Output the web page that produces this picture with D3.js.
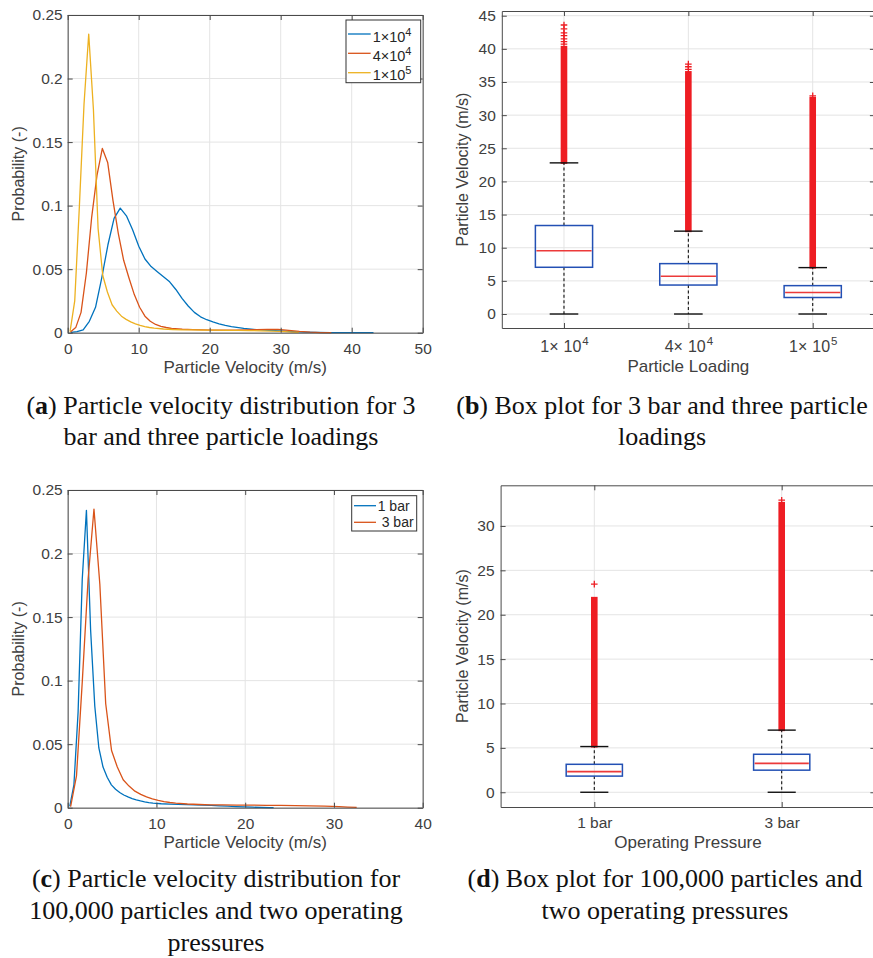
<!DOCTYPE html>
<html>
<head>
<meta charset="utf-8">
<script src="https://cdn.jsdelivr.net/npm/d3@7"></script>
<style>
  body { margin: 0; background: #fff; }
  svg text { font-family: "Liberation Sans", Arial, Helvetica, sans-serif; }
  svg text.cap { font-family: "Liberation Serif", "Times New Roman", serif; }
</style>
</head>
<body>
<svg id="fig" width="873" height="958"></svg>
<script>
// ---------------- data ----------------
// (a) velocity histograms (probability per bin) at 3 bar for three particle loadings
const velLoad1e4 = [0.44,1.31,2.18,3.05,3.92,4.79,5.66,6.53,7.40,8.27,9.14,10.01,10.88,11.75,12.62,13.49,14.36,15.23,16.10,16.97,17.84,18.71,19.58,20.45,21.32,22.19,23.06,24.80,26.54,28.28,30.02,31.76,33.50,35.24,36.98,38.72,40.46,42.20,43.07];
const probLoad1e4 = [0.0003,0.0008,0.0022,0.009,0.020,0.043,0.069,0.090,0.098,0.092,0.081,0.068,0.058,0.052,0.048,0.044,0.040,0.034,0.027,0.021,0.016,0.0125,0.0102,0.0085,0.0070,0.0058,0.0048,0.0034,0.0024,0.0019,0.0014,0.0009,0.0005,0.0002,0.0001,0,0,0,0];

const velLoad4e4 = [0.38,1.13,1.88,2.63,3.38,4.13,4.88,5.63,6.38,7.13,7.88,8.63,9.38,10.13,10.88,11.63,12.38,13.13,13.88,14.63,16.13,17.63,19.13,20.63,22.13,23.63,25.13,26.63,28.13,29.63,31.13,32.63,34.13,35.63,37.13];
const probLoad4e4 = [0.0005,0.004,0.016,0.047,0.091,0.124,0.145,0.134,0.104,0.078,0.057,0.043,0.030,0.020,0.013,0.0090,0.0065,0.0050,0.0041,0.0033,0.0027,0.0024,0.0022,0.0021,0.0021,0.0021,0.0022,0.0024,0.0026,0.0026,0.0019,0.0010,0.0004,0.0001,0];

const velLoad1e5 = [0.33,0.99,1.65,2.30,2.96,3.62,4.28,4.94,5.59,6.25,6.91,7.57,8.23,8.88,9.54,10.20,10.86,11.51,12.17,13.49,14.80,16.12,17.43,19.07,20.71,22.36,24.00,25.65,27.30,28.94,30.58,31.57,32.56];
const probLoad1e5 = [0.0008,0.025,0.100,0.180,0.235,0.176,0.082,0.045,0.032,0.022,0.017,0.013,0.0105,0.0085,0.0070,0.0058,0.0048,0.0041,0.0036,0.0029,0.0025,0.0023,0.0022,0.0021,0.0020,0.0019,0.0018,0.0017,0.0015,0.0012,0.0008,0.0005,0.0002];

// (c) 100,000 particles at 1 bar and 3 bar (3 bar is the 1e5 run above)
const vel1bar = [0.23,0.70,1.17,1.64,2.11,2.58,3.05,3.51,3.98,4.45,4.92,5.39,5.86,6.32,6.79,7.26,7.73,8.20,8.67,9.14,9.61,10.54,11.48,12.42,13.36,14.29,15.23,16.17,17.10,18.04,18.98,19.92,20.85,21.79,22.73,23.20];
const prob1bar = [0.001,0.018,0.075,0.180,0.234,0.140,0.080,0.047,0.032,0.024,0.018,0.0145,0.012,0.010,0.0085,0.0072,0.0062,0.0053,0.0046,0.0040,0.0036,0.0031,0.0028,0.0026,0.0024,0.0022,0.0020,0.0018,0.0015,0.0012,0.0009,0.0006,0.0004,0.0002,0.0001,0];
const vel3bar = velLoad1e5;
const prob3bar = probLoad1e5;

// (b) box plot statistics per particle loading
const loadingMantissa = ["1", "4", "1"];
const loadingExponent = ["4", "4", "5"];
const loadQ1      = [7.05, 4.37, 2.49];
const loadMedian  = [9.55, 5.70, 3.25];
const loadQ3      = [13.35, 7.60, 4.28];
const loadWhiskLo = [0, 0, 0];
const loadWhiskHi = [22.8, 12.5, 7.0];
const loadOutTop  = [40.3, 36.5, 32.6];          // top of the dense outlier run
const loadOutSparse = [[40.7, 41.1, 41.5, 42.0, 42.4, 43.0, 43.6], [36.9, 37.3, 37.7], [32.9]];

// (d) box plot statistics per operating pressure
const pressureLabels = ["1 bar", "3 bar"];
const presQ1      = [1.82, 2.49];
const presMedian  = [2.32, 3.25];
const presQ3      = [3.15, 4.28];
const presWhiskLo = [0, 0];
const presWhiskHi = [5.15, 7.0];
const presOutTop  = [21.9, 32.6];
const presOutSparse = [[23.45], [32.9]];

// ticks
const velTicksA  = [0, 10, 20, 30, 40, 50];
const velTicksC  = [0, 10, 20, 30, 40];
const probTicks  = [0, 0.05, 0.1, 0.15, 0.2, 0.25];
const probTickLabels = ["0", "0.05", "0.1", "0.15", "0.2", "0.25"];
const boxTicksB  = [0, 5, 10, 15, 20, 25, 30, 35, 40, 45];
const boxTicksD  = [0, 5, 10, 15, 20, 25, 30];

// captions
const captionA = ["(a) Particle velocity distribution for 3", "bar and three particle loadings"];
const captionB = ["(b) Box plot for 3 bar and three particle", "loadings"];
const captionC = ["(c) Particle velocity distribution for", "100,000 particles and two operating", "pressures"];
const captionD = ["(d) Box plot for 100,000 particles and", "two operating pressures"];

// ---------------- style ----------------
const GRID = "#e4e4e4", AXC = "#4a4a4a", TXT = "#404040";
const C_BLUE = "#0072BD", C_RED = "#D95319", C_YEL = "#EDB120";
const BOX_BLUE = "#2350b4", MED_RED = "#ec3a3a", OUT_RED = "#ee1d23";
const TICK_FS = 15.5, LABEL_FS = 17, YLABEL_FS = 16;

const svg = d3.select("#fig");

// ---------------- scales ----------------
const xA = d3.scaleLinear([0, 50], [67.7, 422.7]);
const yA = d3.scaleLinear([0, 0.25], [332.7, 15]);
const xC = d3.scaleLinear([0, 40], [67.7, 422.7]);
const yC = d3.scaleLinear([0, 0.25], [807.7, 490]);
const xB = d3.scaleLinear([0.5, 3.5], [501.8, 874.9]);
const yB = d3.scaleLinear([-2.11, 45.71], [328, 11]);
const xD = d3.scaleLinear([0.5, 2.5], [500.6, 875.4]);
const yD = d3.scaleLinear([-1.66, 34.58], [807, 485.3]);

// ---------------- helpers ----------------
function grid(xs, ys, xt, yt) {
  const g = svg.append("g");
  const [yb, ytop] = ys.range(), [xl, xr] = xs.range();
  g.selectAll("line.gx").data(xt).join("line")
    .attr("x1", d => xs(d)).attr("x2", d => xs(d)).attr("y1", ytop).attr("y2", yb)
    .attr("stroke", GRID).attr("stroke-width", 1);
  g.selectAll("line.gy").data(yt).join("line")
    .attr("x1", xl).attr("x2", xr).attr("y1", d => ys(d)).attr("y2", d => ys(d))
    .attr("stroke", GRID).attr("stroke-width", 1);
}

function styleAxis(s) {
  s.attr("font-family", null).attr("font-size", TICK_FS);
  s.select(".domain").attr("stroke", AXC);
  s.selectAll(".tick line").attr("stroke", AXC);
  s.selectAll(".tick text").attr("fill", TXT);
}

function frame(xs, ys, xt, yt, xFmt, yFmt, xPad, yPad) {
  const g = svg.append("g");
  const [yb, ytop] = ys.range(), [xl, xr] = xs.range();
  const none = () => "";
  const bottom = g.append("g").attr("transform", `translate(0,${yb})`)
    .call(d3.axisBottom(xs).tickValues(xt).tickSize(-5).tickSizeOuter(0).tickPadding(xPad).tickFormat(xFmt))
    .call(styleAxis);
  g.append("g").attr("transform", `translate(0,${ytop})`)
    .call(d3.axisTop(xs).tickValues(xt).tickSize(-5).tickSizeOuter(0).tickFormat(none)).call(styleAxis);
  g.append("g").attr("transform", `translate(${xl},0)`)
    .call(d3.axisLeft(ys).tickValues(yt).tickSize(-5).tickSizeOuter(0).tickPadding(yPad).tickFormat(yFmt))
    .call(styleAxis);
  g.append("g").attr("transform", `translate(${xr},0)`)
    .call(d3.axisRight(ys).tickValues(yt).tickSize(-5).tickSizeOuter(0).tickFormat(none)).call(styleAxis);
  return bottom;
}

function xLabel(text, x, y) {
  svg.append("text").attr("x", x).attr("y", y).attr("text-anchor", "middle")
    .attr("font-size", LABEL_FS).attr("fill", TXT).text(text);
}
function yLabel(text, x, y) {
  svg.append("text").attr("transform", `translate(${x},${y}) rotate(-90)`)
    .attr("text-anchor", "middle").attr("font-size", YLABEL_FS).attr("fill", TXT).text(text);
}

function curve(xs, ys, vx, vy, color) {
  svg.append("path").datum(d3.zip(vx, vy))
    .attr("fill", "none").attr("stroke", color).attr("stroke-width", 1.3)
    .attr("stroke-linejoin", "round")
    .attr("d", d3.line().x(d => xs(d[0])).y(d => ys(d[1])));
}

function boxplot(xs, ys, q1, med, q3, wlo, whi, outTop, outSparse, boxW) {
  const g = svg.append("g");
  const idx = d3.range(q1.length);
  const pos = i => i + 1;
  // outliers: dense run drawn as a column of markers, sparse ones as '+'
  g.selectAll("rect.out").data(idx).join("rect")
    .attr("x", i => xs(pos(i)) - 3.3).attr("width", 6.6)
    .attr("y", i => ys(outTop[i]) - 1).attr("height", i => ys(whi[i]) - ys(outTop[i]) + 2)
    .attr("fill", OUT_RED);
  const plus = idx.flatMap(i => outSparse[i].map(v => [pos(i), v]));
  g.selectAll("path.plus").data(plus).join("path")
    .attr("transform", d => `translate(${xs(d[0])},${ys(d[1])})`)
    .attr("d", "M-3.3,0H3.3M0,-3.3V3.3").attr("stroke", OUT_RED).attr("stroke-width", 1.3);
  // whiskers
  g.selectAll("line.wu").data(idx).join("line")
    .attr("x1", i => xs(pos(i))).attr("x2", i => xs(pos(i)))
    .attr("y1", i => ys(q3[i])).attr("y2", i => ys(whi[i]))
    .attr("stroke", "#111").attr("stroke-width", 1.1).attr("stroke-dasharray", "3,2.5");
  g.selectAll("line.wl").data(idx).join("line")
    .attr("x1", i => xs(pos(i))).attr("x2", i => xs(pos(i)))
    .attr("y1", i => ys(q1[i])).attr("y2", i => ys(wlo[i]))
    .attr("stroke", "#111").attr("stroke-width", 1.1).attr("stroke-dasharray", "3,2.5");
  // caps
  const caps = idx.flatMap(i => [[pos(i), whi[i]], [pos(i), wlo[i]]]);
  g.selectAll("line.cap").data(caps).join("line")
    .attr("x1", d => xs(d[0] - boxW / 4)).attr("x2", d => xs(d[0] + boxW / 4))
    .attr("y1", d => ys(d[1])).attr("y2", d => ys(d[1]))
    .attr("stroke", "#111").attr("stroke-width", 1.4);
  // boxes
  g.selectAll("rect.box").data(idx).join("rect")
    .attr("x", i => xs(pos(i) - boxW / 2)).attr("width", i => xs(pos(i) + boxW / 2) - xs(pos(i) - boxW / 2))
    .attr("y", i => ys(q3[i])).attr("height", i => ys(q1[i]) - ys(q3[i]))
    .attr("fill", "none").attr("stroke", BOX_BLUE).attr("stroke-width", 1.5);
  // medians
  g.selectAll("line.med").data(idx).join("line")
    .attr("x1", i => xs(pos(i) - boxW / 2) + 1).attr("x2", i => xs(pos(i) + boxW / 2) - 1)
    .attr("y1", i => ys(med[i])).attr("y2", i => ys(med[i]))
    .attr("stroke", MED_RED).attr("stroke-width", 1.6);
}

function caption(lines, cx, baselines) {
  lines.forEach((line, i) => {
    const t = svg.append("text").attr("class", "cap")
      .attr("x", cx).attr("y", baselines[i])
      .attr("text-anchor", "middle").attr("font-size", 26).attr("fill", "#111");
    const m = line.match(/^\((\w)\)(.*)$/);
    if (m) {
      t.append("tspan").text("(");
      t.append("tspan").attr("font-weight", "bold").text(m[1]);
      t.append("tspan").text(")" + m[2]);
    } else {
      t.text(line);
    }
  });
}

const probFmt = d => probTickLabels[probTicks.indexOf(d)];
const numFmt = d => String(d);

// ---------------- panel (a) ----------------
grid(xA, yA, velTicksA, probTicks);
curve(xA, yA, velLoad1e4, probLoad1e4, C_BLUE);
curve(xA, yA, velLoad4e4, probLoad4e4, C_RED);
curve(xA, yA, velLoad1e5, probLoad1e5, C_YEL);
frame(xA, yA, velTicksA, probTicks, numFmt, probFmt, 10.3, 5);
xLabel("Particle Velocity (m/s)", d3.mean(xA.range()), 373);
yLabel("Probability (-)", 23.5, d3.mean(yA.range()));

// legend (a)
{
  const g = svg.append("g");
  g.append("rect").attr("x", 346).attr("y", 20).attr("width", 74.7).attr("height", 62.7)
    .attr("fill", "#fff").attr("stroke", "#333").attr("stroke-width", 1);
  const colors = [C_BLUE, C_RED, C_YEL];
  const rows = [34, 53.3, 72.7];
  loadingMantissa.forEach((m, i) => {
    g.append("line").attr("x1", 348).attr("x2", 370.7).attr("y1", rows[i]).attr("y2", rows[i])
      .attr("stroke", colors[i]).attr("stroke-width", 1.3);
    const t = g.append("text").attr("x", 372.7).attr("y", rows[i] + 7.5)
      .attr("font-size", 14.5).attr("fill", "#262626");
    t.append("tspan").text(m + "\u00D710");
    t.append("tspan").attr("dy", -6).attr("font-size", 11).text(loadingExponent[i]);
  });
}

// ---------------- panel (b) ----------------
grid(xB, yB, [1, 2, 3], boxTicksB);
boxplot(xB, yB, loadQ1, loadMedian, loadQ3, loadWhiskLo, loadWhiskHi, loadOutTop, loadOutSparse, 0.46);
{
  const bottom = frame(xB, yB, [1, 2, 3], boxTicksB, () => "", numFmt, 12.5, 6);
  bottom.selectAll(".tick text").each(function (d, i) {
    const t = d3.select(this).attr("font-size", 16);
    t.append("tspan").text(loadingMantissa[i] + "\u00D7");
    t.append("tspan").attr("dx", 5).text("10");
    t.append("tspan").attr("dy", -6.5).attr("dx", 1).attr("font-size", 11.5).text(loadingExponent[i]);
  });
}
xLabel("Particle Loading", d3.mean(xB.range()), 372);
yLabel("Particle Velocity (m/s)", 468, d3.mean(yB.range()));

// ---------------- panel (c) ----------------
grid(xC, yC, velTicksC, probTicks);
curve(xC, yC, vel1bar, prob1bar, C_BLUE);
curve(xC, yC, vel3bar, prob3bar, C_RED);
frame(xC, yC, velTicksC, probTicks, numFmt, probFmt, 10.3, 5);
xLabel("Particle Velocity (m/s)", d3.mean(xC.range()), 848);
yLabel("Probability (-)", 23.5, d3.mean(yC.range()));

// legend (c)
{
  const g = svg.append("g");
  g.append("rect").attr("x", 351.7).attr("y", 495.7).attr("width", 65).attr("height", 35.3)
    .attr("fill", "#fff").attr("stroke", "#333").attr("stroke-width", 1);
  const colors = [C_BLUE, C_RED];
  const rows = [505.7, 522.3];
  pressureLabels.forEach((lab, i) => {
    g.append("line").attr("x1", 354).attr("x2", 376).attr("y1", rows[i]).attr("y2", rows[i])
      .attr("stroke", colors[i]).attr("stroke-width", 1.3);
    g.append("text").attr("x", i === 0 ? 377.7 : 381.7).attr("y", rows[i] + 5)
      .attr("font-size", 14).attr("fill", "#262626").text(lab);
  });
}

// ---------------- panel (d) ----------------
grid(xD, yD, [1, 2], boxTicksD);
boxplot(xD, yD, presQ1, presMedian, presQ3, presWhiskLo, presWhiskHi, presOutTop, presOutSparse, 0.30);
frame(xD, yD, [1, 2], boxTicksD, d => pressureLabels[d - 1], numFmt, 9.7, 6);
xLabel("Operating Pressure", d3.mean(xD.range()), 848);
yLabel("Particle Velocity (m/s)", 468, d3.mean(yD.range()));

// ---------------- captions ----------------
caption(captionA, 221, [414, 445]);
caption(captionB, 662, [414, 445]);
caption(captionC, 216, [887, 919, 951]);
caption(captionD, 665, [887, 919]);
</script>
</body>
</html>
